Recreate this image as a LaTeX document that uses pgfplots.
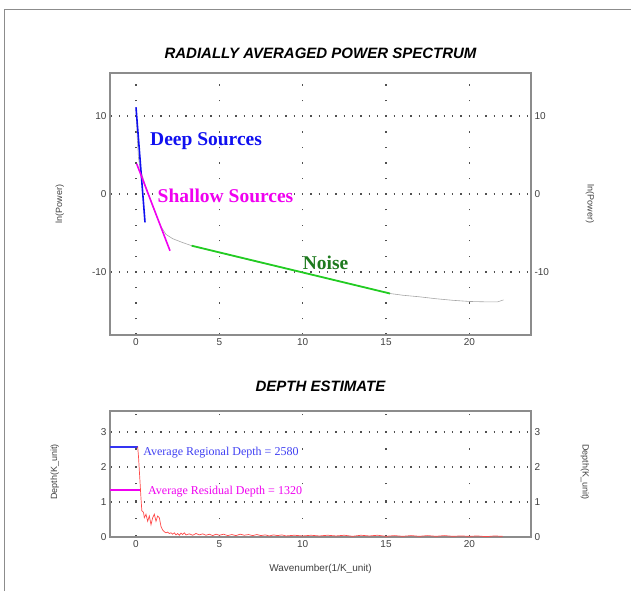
\documentclass[border=0pt]{standalone}
\usepackage{fontspec}
\setmainfont{Liberation Sans}
\newfontfamily\annfont{Liberation Serif}
\usepackage{pgfplots}
\pgfplotsset{compat=1.18}

\definecolor{axgray}{HTML}{8C8C8C}
\definecolor{dotgray}{HTML}{505050}
\definecolor{labgray}{HTML}{404040}
\definecolor{deepblue}{HTML}{1010F0}
\definecolor{shalmag}{HTML}{F000F0}
\definecolor{noisegreen}{HTML}{22CC22}
\definecolor{noisetext}{HTML}{1E7A1E}
\definecolor{depthred}{HTML}{FF4A4A}

\pgfplotsset{
  common/.style={
    scale only axis, anchor=south west,
    xmin=-1.56, xmax=23.7,
    xtick={0,5,10,15,20},
    major tick length=0pt,
    axis line style={axgray, line width=1.3pt},
    tick label style={font=\fontsize{10}{11}\selectfont, text=labgray},
    /pgf/number format/assume math mode=true,
    label style={font=\fontsize{9}{10}\selectfont, text=labgray},
    title style={font=\fontsize{15}{16}\selectfont\bfseries\itshape},
    clip=false,
  },
}

\begin{document}
\begin{tikzpicture}
\useasboundingbox (0pt,0pt) rectangle (631pt,591pt);
\draw[axgray, line width=1.4pt] (4.3pt,0pt) -- (4.3pt,581.7pt) -- (631pt,581.7pt);

% ---------- power spectrum ----------
\begin{axis}[common,
  at={(110pt,256pt)}, width=421pt, height=262pt,
  ymin=-18.1, ymax=15.5,
  ytick={-10,0,10},
  grid=major,
  major y grid style={dotgray, line width=1.4pt, dash pattern=on 1.4pt off 6.93pt, dash phase=7.9pt},
  major x grid style={dotgray, line width=1.4pt, dash pattern=on 1.4pt off 14.16pt, dash phase=15.4pt},
  title={RADIALLY AVERAGED POWER SPECTRUM},
  title style={at={(axis description cs:0.5,1.053)}, anchor=center},
  ylabel={ln(Power)},
  ylabel style={at={(axis description cs:-0.119,0.5)}, anchor=center},
]
% measured spectrum
\addplot[gray!70, line width=0.6pt] coordinates {
(0.0,11.0) (0.08,7.0) (0.15,4.6) (0.25,3.2) (0.5,1.5) (1.0,-1.6) (1.5,-4.2)
(1.8,-5.2) (2.2,-5.75) (2.8,-6.25) (3.34,-6.65) (5,-7.55) (7.5,-8.85)
(10,-10.05) (12.5,-11.35) (15.24,-12.78) (16,-13.0) (17,-13.2) (18,-13.45)
(19,-13.65) (20,-13.8) (21,-13.85) (21.7,-13.85) (22.05,-13.6)
};
% fitted segments
\addplot[deepblue, line width=1.6pt] coordinates {(0.0,11.1) (0.54,-3.65)};
\addplot[shalmag, line width=1.6pt] coordinates {(0.04,3.86) (2.04,-7.3)};
\addplot[noisegreen, line width=1.8pt] coordinates {(3.34,-6.65) (15.24,-12.78)};
\node[anchor=west, text=deepblue, font=\annfont\fontsize{19.5}{20}\selectfont\bfseries, inner sep=0pt]
  at (axis cs:0.84,6.7) {Deep Sources};
\node[anchor=west, text=shalmag, font=\annfont\fontsize{19.5}{20}\selectfont\bfseries, fill=white, inner sep=0.5pt]
  at (axis cs:1.26,-0.2) {Shallow Sources};
\node[anchor=west, text=noisetext, font=\annfont\fontsize{19.5}{20}\selectfont\bfseries, inner sep=0pt]
  at (axis cs:10.0,-8.85) {Noise};
\end{axis}
\begin{axis}[common,
  at={(110pt,256pt)}, width=421pt, height=262pt,
  ymin=-18.1, ymax=15.5,
  ytick={-10,0,10},
  axis y line*=right, hide x axis,
  ylabel={ln(Power)},
  ylabel style={at={(axis description cs:1.14,0.5)}, anchor=center, rotate=180},
]
\end{axis}

% ---------- depth estimate ----------
\begin{axis}[common,
  at={(110pt,54pt)}, width=421pt, height=126pt,
  ymin=0, ymax=3.6,
  ytick={0,1,2,3},
  grid=major,
  major y grid style={dotgray, line width=1.4pt, dash pattern=on 1.4pt off 6.93pt, dash phase=7.9pt},
  major x grid style={dotgray, line width=1.4pt, dash pattern=on 1.4pt off 15.9pt, dash phase=16.6pt},
  x axis line style={black!75},
  title={DEPTH ESTIMATE},
  title style={at={(axis description cs:0.5,1.151)}, anchor=center},
  xlabel={Wavenumber(1/K\_unit)},
  xlabel style={at={(axis description cs:0.5,-0.254)}, anchor=center, font=\fontsize{10}{11}\selectfont},
  ylabel={Depth(K\_unit)},
  ylabel style={at={(axis description cs:-0.131,0.516)}, anchor=center},
]
\addplot[deepblue!85, line width=1.6pt] coordinates {(-1.56,2.58) (0.1,2.58)};
\addplot[shalmag, line width=1.3pt] coordinates {(-1.56,1.34) (0.28,1.34)};
\addplot[depthred, line width=0.7pt] coordinates {
(0.1,2.58) (0.15,2.3) (0.2,1.9) (0.25,1.5) (0.3,1.1) (0.35,0.75) (0.45,0.7)
(0.5,0.55) (0.6,0.65) (0.7,0.45) (0.8,0.6) (0.9,0.35) (1.0,0.55) (1.1,0.65)
(1.2,0.45) (1.3,0.6) (1.4,0.55) (1.5,0.3) (1.6,0.2) (1.7,0.15) (1.8,0.12)
(1.9,0.14) (2.0,0.1) (2.1,0.12) (2.2,0.08) (2.3,0.12) (2.4,0.06) (2.5,0.10)
(2.6,0.05) (2.7,0.11) (2.8,0.07) (2.9,0.12) (3.0,0.06) (3.2,0.09) (3.4,0.05)
(3.6,0.10) (3.8,0.06) (4.0,0.09) (4.2,0.05) (4.4,0.08) (4.6,0.04) (4.8,0.08)
(5.0,0.05) (5.25,0.08) (5.5,0.04) (5.75,0.07) (6.0,0.04) (6.25,0.08) (6.5,0.05)
(6.75,0.07) (7.0,0.04) (7.25,0.07) (7.5,0.04) (7.75,0.06) (8,0.03) (8.25,0.06)
(8.5,0.04) (8.75,0.06) (9,0.03) (9.5,0.05) (10,0.03) (10.5,0.05) (11,0.03)
(11.5,0.05) (12,0.03) (12.5,0.05) (13,0.02) (13.5,0.05) (14,0.03) (14.5,0.05)
(15,0.02) (15.5,0.04) (16,0.02) (16.5,0.04) (17,0.02) (17.5,0.04) (18,0.02)
(18.5,0.04) (19,0.02) (19.5,0.03) (20,0.02) (20.5,0.03) (21,0.01) (21.5,0.03)
(22,0.02)
};
\node[anchor=west, text=deepblue!80, font=\annfont\fontsize{12}{13}\selectfont, fill=white, inner sep=0.3pt]
  at (axis cs:0.41,2.4) {Average Regional Depth = 2580};
\node[anchor=west, text=shalmag, font=\annfont\fontsize{12}{13}\selectfont, fill=white, inner sep=0.3pt]
  at (axis cs:0.70,1.31) {Average Residual Depth = 1320};
\end{axis}
\begin{axis}[common,
  at={(110pt,54pt)}, width=421pt, height=126pt,
  ymin=0, ymax=3.6,
  ytick={0,1,2,3},
  axis y line*=right, hide x axis,
  ylabel={Depth(K\_unit)},
  ylabel style={at={(axis description cs:1.128,0.516)}, anchor=center, rotate=180},
]
\end{axis}
\end{tikzpicture}
\end{document}
